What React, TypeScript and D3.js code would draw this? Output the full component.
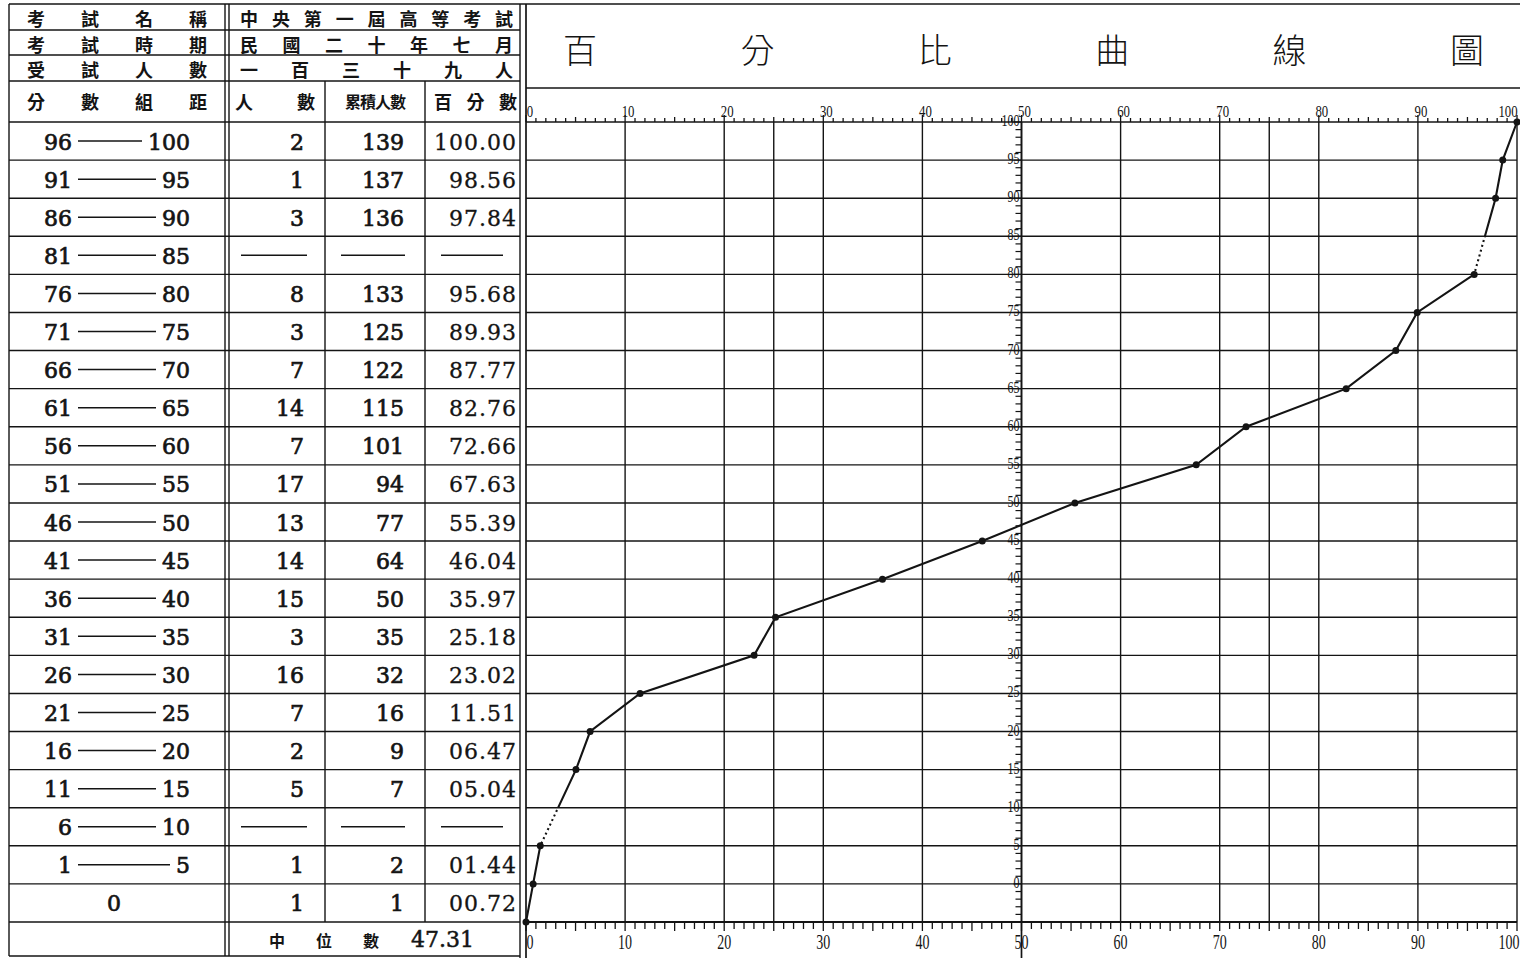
import React from 'react';
import * as d3 from 'd3';

// score groups, top to bottom (the last table row is the single score 0)
const groupLow = [96, 91, 86, 81, 76, 71, 66, 61, 56, 51, 46, 41, 36, 31, 26, 21, 16, 11, 6, 1];
const groupHigh = [100, 95, 90, 85, 80, 75, 70, 65, 60, 55, 50, 45, 40, 35, 30, 25, 20, 15, 10, 5];
const zeroLabel = '0';

// 人數 / 累積人數 / 百分數 (null = empty group, drawn as a dash)
const counts = [2, 1, 3, null, 8, 3, 7, 14, 7, 17, 13, 14, 15, 3, 16, 7, 2, 5, null, 1, 1];
const cumulative = [139, 137, 136, null, 133, 125, 122, 115, 101, 94, 77, 64, 50, 35, 32, 16, 9, 7, null, 2, 1];
const percents = ['100.00', '98.56', '97.84', null, '95.68', '89.93', '87.77', '82.76', '72.66', '67.63',
  '55.39', '46.04', '35.97', '25.18', '23.02', '11.51', '06.47', '05.04', null, '01.44', '00.72'];
const median = '47.31';

const titleChars = ['百', '分', '比', '曲', '線', '圖'];
const headerLabels = [['考', '試', '名', '稱'], ['考', '試', '時', '期'], ['受', '試', '人', '數']];
const headerValues = [
  ['中', '央', '第', '一', '屆', '高', '等', '考', '試'],
  ['民', '國', '二', '十', '年', '七', '月'],
  ['一', '百', '三', '十', '九', '人'],
];

const xLabelTicks = d3.range(0, 101, 10);
const xMinorTicks = d3.range(0, 101, 1);
const yLabelTicks = d3.range(0, 101, 5);
const yMinorTicks = d3.range(-5, 101, 1);
const xGrid = [10, 20, 25, 30, 40, 50, 60, 70, 75, 80, 90, 100];
const curveOrigin: [number, number] = [0, -5];

const CJK = '"Noto Sans CJK TC", "Noto Sans CJK SC", sans-serif';
const NUM = '"DejaVu Serif", serif';
const AXIS = '"Liberation Serif", serif';
const INK = '#141414';

const W = 1520;
const H = 958;

// table columns
const L = 9;
const C1a = 225, C1b = 229, C2 = 325, C3 = 425, R1 = 520;
const headerY = [4, 30, 55, 81];

function spread(chars: string[], a: number, b: number) {
  const s = d3.scalePoint<number>().domain(chars.map((_, i) => i)).range([a, b]);
  return chars.map((c, i) => ({ c, x: s(i) as number }));
}

export default function App() {
  const x = d3.scaleLinear().domain([0, 100]).range([526, 1517]);
  const y = d3.scaleLinear().domain([-5, 100]).range([922, 122]);

  const rowUpper = [...groupHigh, 0];
  const rows = rowUpper.map((u, i) => ({
    top: y(u),
    mid: (y(u) + y(u - 5)) / 2,
    label: i < groupLow.length ? [String(groupLow[i]), String(groupHigh[i])] : null,
    count: counts[i],
    cum: cumulative[i],
    pct: percents[i],
    upper: u,
  }));

  const points: [number, number][] = [
    curveOrigin,
    ...rows.filter(r => r.pct !== null).map(r => [parseFloat(r.pct as string), r.upper] as [number, number]).reverse(),
  ];
  const emptyBands = rows.filter(r => r.count === null).map(r => [y(r.upper), y(r.upper - 5)]);

  const line = d3.line<[number, number]>().x(d => x(d[0])).y(d => y(d[1]));
  const curvePath = line(points) || '';

  const tableBottom = 956;

  return (
    <svg width={W} height={H} style={{ position: 'absolute', left: 0, top: 0, background: '#fff' }}>
      <defs>
        <mask id="solidPart">
          <rect x={0} y={0} width={W} height={H} fill="#fff" />
          {emptyBands.map((b, i) => <rect key={i} x={0} y={b[0]} width={W} height={b[1] - b[0]} fill="#000" />)}
        </mask>
        <clipPath id="dottedPart">
          {emptyBands.map((b, i) => <rect key={i} x={0} y={b[0]} width={W} height={b[1] - b[0]} />)}
        </clipPath>
      </defs>
      <rect width={W} height={H} fill="#fff" />

      {/* ---------- table ---------- */}
      <g stroke={INK} strokeWidth={1.4} fill="none">
        <line x1={L} x2={W} y1={4} y2={4} />
        {headerY.slice(1).map(v => <line key={v} x1={L} x2={R1} y1={v} y2={v} />)}
        {rows.map((r, i) => <line key={i} x1={L} x2={R1} y1={r.top} y2={r.top} />)}
        <line x1={L} x2={R1} y1={y(-5)} y2={y(-5)} />
        <line x1={L} x2={R1} y1={tableBottom} y2={tableBottom} />
        <line x1={L} x2={L} y1={4} y2={tableBottom} />
        <line x1={C1a} x2={C1a} y1={4} y2={tableBottom} />
        <line x1={C1b} x2={C1b} y1={4} y2={tableBottom} />
        <line x1={C2} x2={C2} y1={headerY[3]} y2={y(-5)} />
        <line x1={C3} x2={C3} y1={headerY[3]} y2={y(-5)} />
        <line x1={R1} x2={R1} y1={4} y2={H} />
      </g>

      {/* header text */}
      <g fontFamily={CJK} fontWeight={700} fontSize={18} fill={INK} textAnchor="middle" dominantBaseline="central">
        {headerLabels.map((chars, i) => spread(chars, 36, 198).map((d, j) => (
          <text key={`l${i}${j}`} x={d.x} y={(headerY[i] + headerY[i + 1]) / 2 + 1}>{d.c}</text>
        )))}
        {headerValues.map((chars, i) => spread(chars, 249, 504).map((d, j) => (
          <text key={`v${i}${j}`} x={d.x} y={(headerY[i] + headerY[i + 1]) / 2 + 1}>{d.c}</text>
        )))}
        {spread(['分', '數', '組', '距'], 36, 198).map((d, j) => (
          <text key={`g${j}`} x={d.x} y={101}>{d.c}</text>
        ))}
        {spread(['人', '數'], 244, 306).map((d, j) => <text key={`p${j}`} x={d.x} y={101}>{d.c}</text>)}
        <text x={375} y={101} fontSize={16} letterSpacing={-1}>累積人數</text>
        {spread(['百', '分', '數'], 443, 508).map((d, j) => <text key={`q${j}`} x={d.x} y={101}>{d.c}</text>)}
      </g>

      {/* rows */}
      <g fontFamily={NUM} fontSize={22} fill={INK} stroke={INK} strokeWidth={0.7} dominantBaseline="central">
        {rows.map((r, i) => {
          const ty = r.mid + 1;
          const out: React.ReactNode[] = [];
          if (r.label) {
            const rightStart = 190 - r.label[1].length * 14;
            out.push(<text key="a" x={72} y={ty} textAnchor="end">{r.label[0]}</text>);
            out.push(<line key="b" x1={78} x2={rightStart - 6} y1={r.mid} y2={r.mid} strokeWidth={1.5} />);
            out.push(<text key="c" x={190} y={ty} textAnchor="end">{r.label[1]}</text>);
          } else {
            out.push(<text key="a" x={114} y={ty} textAnchor="middle">{zeroLabel}</text>);
          }
          if (r.count === null) {
            out.push(<line key="d1" x1={241} x2={307} y1={r.mid} y2={r.mid} strokeWidth={1.5} />);
            out.push(<line key="d2" x1={341} x2={405} y1={r.mid} y2={r.mid} strokeWidth={1.5} />);
            out.push(<line key="d3" x1={441} x2={503} y1={r.mid} y2={r.mid} strokeWidth={1.5} />);
          } else {
            out.push(<text key="e" x={304} y={ty} textAnchor="end">{r.count}</text>);
            out.push(<text key="f" x={404} y={ty} textAnchor="end">{r.cum}</text>);
            out.push(<text key="g" x={517} y={ty} textAnchor="end" letterSpacing={1} strokeWidth={0.3}>{r.pct}</text>);
          }
          return <g key={i}>{out}</g>;
        })}
      </g>

      {/* median row */}
      <g fill={INK} dominantBaseline="central">
        {spread(['中', '位', '數'], 277, 371).map((d, j) => (
          <text key={j} x={d.x} y={940} fontFamily={CJK} fontWeight={700} fontSize={16} textAnchor="middle">{d.c}</text>
        ))}
        <text x={411} y={939} fontFamily={NUM} fontSize={22} stroke={INK} strokeWidth={0.5}>{median}</text>
      </g>

      {/* ---------- chart ---------- */}
      <g stroke={INK} fill="none">
        <line x1={x(0)} x2={x(0)} y1={4} y2={H} strokeWidth={1.7} />
        <line x1={x(0)} x2={W} y1={88} y2={88} strokeWidth={1.4} />
        <line x1={x(0)} x2={x(100)} y1={y(100)} y2={y(100)} strokeWidth={1.5} />
        <line x1={x(0)} x2={x(100)} y1={y(-5)} y2={y(-5)} strokeWidth={1.8} />
        {yLabelTicks.filter(v => v < 100).map(v => (
          <line key={`h${v}`} x1={x(0)} x2={x(100)} y1={y(v)} y2={y(v)} strokeWidth={1.4} />
        ))}
        {xGrid.map(v => (
          <line key={`v${v}`} x1={x(v)} x2={x(v)} y1={y(100)} y2={y(-5)} strokeWidth={1.4} />
        ))}
        <line x1={x(50)} x2={x(50)} y1={y(100)} y2={H} strokeWidth={1.7} />
        {/* top and bottom rulers */}
        {xMinorTicks.map(v => (
          <g key={`t${v}`}>
            <line x1={x(v)} x2={x(v)} y1={y(100)} y2={y(100) - (v % 10 === 0 ? 7 : v % 5 === 0 ? 5 : 4)} strokeWidth={1.3} />
            <line x1={x(v)} x2={x(v)} y1={y(-5)} y2={y(-5) + (v % 5 === 0 ? 9 : 7)} strokeWidth={1.3} />
          </g>
        ))}
        {/* y ruler on the 50 line */}
        {yMinorTicks.map(v => (
          <line key={`y${v}`} x1={x(50)} x2={x(50) - (v % 5 === 0 ? 8 : 6)} y1={y(v)} y2={y(v)} strokeWidth={1.2} />
        ))}
      </g>

      {/* title */}
      <g fontFamily={CJK} fontWeight={300} fontSize={34} fill={INK} textAnchor="middle" dominantBaseline="central">
        {spread(titleChars, 580, 1467).map((d, i) => <text key={i} x={d.x} y={48}>{d.c}</text>)}
      </g>

      {/* axis labels */}
      <g fontFamily={AXIS} fill={INK}>
        {xLabelTicks.map(v => (
          <text key={`tl${v}`} transform={`translate(${x(v) + (v === 0 ? 4 : v === 100 ? -9 : 3)},${y(100) - 5}) scale(0.8,1)`}
            fontSize={16} textAnchor="middle">{v}</text>
        ))}
        {xLabelTicks.map(v => (
          <text key={`bl${v}`} transform={`translate(${x(v) + (v === 0 ? 4 : v === 100 ? -8 : 0)},${949}) scale(0.7,1)`}
            fontSize={20} textAnchor="middle">{v}</text>
        ))}
        {yLabelTicks.map(v => (
          <text key={`yl${v}`} transform={`translate(${x(50) - 2},${y(v) + 4}) scale(0.75,1)`}
            fontSize={16} textAnchor="end">{v}</text>
        ))}
      </g>

      {/* percentile curve */}
      <path d={curvePath} fill="none" stroke={INK} strokeWidth={2.1} mask="url(#solidPart)" />
      <path d={curvePath} fill="none" stroke={INK} strokeWidth={2.1} strokeDasharray="2,3" clipPath="url(#dottedPart)" />
      <g fill={INK}>
        {points.map((p, i) => <circle key={i} cx={x(p[0])} cy={y(p[1])} r={3.5} />)}
      </g>
    </svg>
  );
}
